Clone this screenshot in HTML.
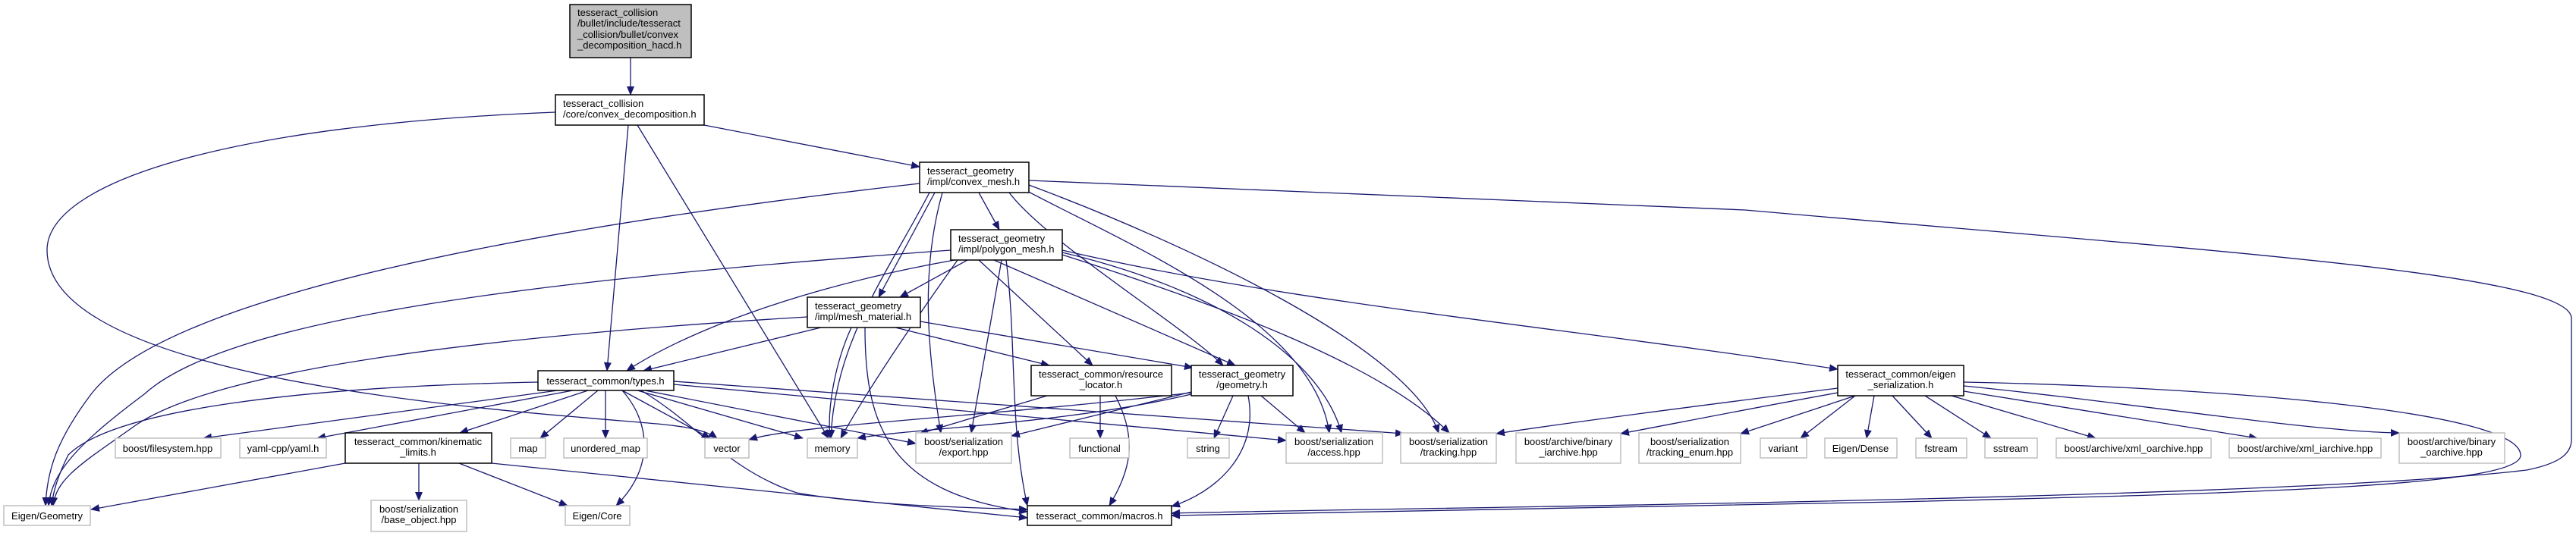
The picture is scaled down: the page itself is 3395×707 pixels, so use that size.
<!DOCTYPE html>
<html><head><meta charset="utf-8"><style>
html,body{margin:0;padding:0;background:#fff;}
svg{display:block;}
text{font-family:"Liberation Sans",Arial,sans-serif;font-size:13px;fill:#000;}
.e{fill:none;stroke:#191970;stroke-width:1.3;}
.in{fill:#fff;stroke:#000;stroke-width:1.5;}
.ex{fill:#fff;stroke:#bfbfbf;stroke-width:1.5;}
</style></head><body>
<svg width="3395" height="707" viewBox="0 0 3395 707" xmlns="http://www.w3.org/2000/svg">
<defs><marker id="a" markerUnits="userSpaceOnUse" markerWidth="12" markerHeight="10" refX="11" refY="5" orient="auto"><path d="M0,0 L12,5 L0,10 Z" fill="#191970"/></marker></defs>
<g class="e" marker-end="url(#a)">
<!-- root -->
<path d="M831,76 L831,125"/>
<!-- convex_decomposition -->
<path d="M928,165 L1212,220"/>
<path d="M828,165 L800,489"/>
<path d="M840,165 L1092,578"/>
<path d="M732,148 C300,165 62,240 62,330 C62,460 400,520 760,550 C870,560 920,560 945,578"/>
<!-- convex_mesh -->
<path d="M1290,254 L1317,303"/>
<path d="M1232,254 L1158,392"/>
<path d="M1212,242 C700,300 220,390 120,520 C75,580 62,620 60,667"/>
<path d="M1225,254 C1170,360 1100,450 1095,578"/>
<path d="M1242,254 C1215,350 1220,450 1240,571"/>
<path d="M1330,254 C1380,320 1560,430 1612,482"/>
<path d="M1350,250 C1480,320 1730,420 1752,571"/>
<path d="M1356,244 C1560,320 1860,460 1896,571"/>
<path d="M1356,238 L2300,277 C2900,330 3389,360 3389,420 L3389,580 C3389,600 3370,612 3330,620 C3000,660 1800,670 1544,677"/>
<!-- polygon_mesh -->
<path d="M1253,330 C700,370 300,420 190,520 C110,580 68,620 64,667"/>
<path d="M1275,343 L1186,392"/>
<path d="M1258,343 C1050,380 900,440 826,489"/>
<path d="M1290,343 L1440,482"/>
<path d="M1310,343 L1628,482"/>
<path d="M1262,343 C1200,430 1140,520 1108,578"/>
<path d="M1320,343 L1280,571"/>
<path d="M1326,343 C1340,450 1330,560 1354,667"/>
<path d="M1400,333 C1600,380 1740,470 1768,571"/>
<path d="M1400,336 C1600,400 1820,480 1910,571"/>
<path d="M1400,330 C1700,400 2050,430 2422,487"/>
<!-- mesh_material -->
<path d="M1064,418 C700,440 300,480 180,560 C110,610 74,630 70,667"/>
<path d="M1082,432 L848,489"/>
<path d="M1180,432 L1383,482"/>
<path d="M1213,424 L1572,485"/>
<path d="M1122,432 C1100,480 1090,540 1094,578"/>
<path d="M1140,432 C1140,560 1170,650 1354,675"/>
<!-- types.h -->
<path d="M709,504 C400,510 150,540 90,600 C75,630 70,650 68,667"/>
<path d="M735,515 L268,578"/>
<path d="M755,515 L418,578"/>
<path d="M775,515 L606,571"/>
<path d="M788,515 L712,578"/>
<path d="M798,515 L798,578"/>
<path d="M820,515 C860,560 860,620 812,667"/>
<path d="M820,515 L936,578"/>
<path d="M840,515 L1058,578"/>
<path d="M850,515 L1207,585"/>
<path d="M888,507 L1695,581"/>
<path d="M888,503 L1850,572"/>
<path d="M845,515 C920,560 960,620 1050,650 C1150,668 1300,670 1354,672"/>
<!-- kinematic -->
<path d="M455,611 L120,672"/>
<path d="M552,611 L552,660"/>
<path d="M605,611 L748,667"/>
<path d="M648,611 L1354,683"/>
<!-- resource_locator -->
<path d="M1380,522 L1212,572"/>
<path d="M1450,522 L1450,578"/>
<path d="M1470,522 C1500,580 1490,620 1462,667"/>
<!-- geometry.h -->
<path d="M1570,517 L1333,575"/>
<path d="M1570,520 C1400,560 1200,565 1130,578"/>
<path d="M1570,518 C1300,550 1050,560 987,580"/>
<path d="M1625,522 L1600,578"/>
<path d="M1662,522 L1720,571"/>
<path d="M1645,522 C1660,600 1600,650 1544,668"/>
<!-- eigen serialization -->
<path d="M2422,512 C2200,540 2050,560 1972,572"/>
<path d="M2422,518 C2300,540 2200,560 2136,572"/>
<path d="M2445,522 L2294,572"/>
<path d="M2445,522 L2373,578"/>
<path d="M2470,522 L2460,578"/>
<path d="M2494,522 L2546,578"/>
<path d="M2537,522 L2624,578"/>
<path d="M2572,522 L2762,578"/>
<path d="M2588,516 L2975,578"/>
<path d="M2588,509 C2800,530 3050,570 3162,571"/>
<path d="M2588,504 C2900,510 3320,540 3322,600 C3325,640 3000,650 2500,662 C2000,672 1700,676 1544,680"/>
</g>
<!-- nodes -->
<rect x="751" y="6" width="160" height="70" fill="#bfbfbf" stroke="#000" stroke-width="1.5"/>
<text x="761" y="21">tesseract_collision</text>
<text x="761" y="35">/bullet/include/tesseract</text>
<text x="761" y="50">_collision/bullet/convex</text>
<text x="761" y="64">_decomposition_hacd.h</text>

<rect class="in" x="732" y="125" width="196" height="40"/>
<text x="742" y="141">tesseract_collision</text>
<text x="742" y="155">/core/convex_decomposition.h</text>

<rect class="in" x="1212" y="214" width="144" height="40"/>
<text x="1222" y="230">tesseract_geometry</text>
<text x="1222" y="244">/impl/convex_mesh.h</text>

<rect class="in" x="1253" y="303" width="147" height="40"/>
<text x="1263" y="319">tesseract_geometry</text>
<text x="1263" y="333">/impl/polygon_mesh.h</text>

<rect class="in" x="1064" y="392" width="149" height="40"/>
<text x="1074" y="408">tesseract_geometry</text>
<text x="1074" y="422">/impl/mesh_material.h</text>

<rect class="in" x="709" y="489" width="179" height="26"/>
<text x="798" y="507" text-anchor="middle">tesseract_common/types.h</text>

<rect class="in" x="1359" y="482" width="185" height="40"/>
<text x="1451" y="498" text-anchor="middle">tesseract_common/resource</text>
<text x="1451" y="512" text-anchor="middle">_locator.h</text>

<rect class="in" x="1570" y="482" width="134" height="40"/>
<text x="1637" y="498" text-anchor="middle">tesseract_geometry</text>
<text x="1637" y="512" text-anchor="middle">/geometry.h</text>

<rect class="in" x="2422" y="482" width="166" height="40"/>
<text x="2505" y="498" text-anchor="middle">tesseract_common/eigen</text>
<text x="2505" y="512" text-anchor="middle">_serialization.h</text>

<rect class="in" x="455" y="571" width="193" height="40"/>
<text x="551" y="587" text-anchor="middle">tesseract_common/kinematic</text>
<text x="551" y="601" text-anchor="middle">_limits.h</text>

<rect class="in" x="1354" y="667" width="190" height="26"/>
<text x="1449" y="685" text-anchor="middle">tesseract_common/macros.h</text>

<g>
<rect class="ex" x="152" y="578" width="139" height="26"/><text x="221" y="596" text-anchor="middle">boost/filesystem.hpp</text>
<rect class="ex" x="316" y="578" width="114" height="26"/><text x="373" y="596" text-anchor="middle">yaml-cpp/yaml.h</text>
<rect class="ex" x="673" y="578" width="46" height="26"/><text x="696" y="596" text-anchor="middle">map</text>
<rect class="ex" x="743" y="578" width="110" height="26"/><text x="798" y="596" text-anchor="middle">unordered_map</text>
<rect class="ex" x="929" y="578" width="58" height="26"/><text x="958" y="596" text-anchor="middle">vector</text>
<rect class="ex" x="1064" y="578" width="66" height="26"/><text x="1097" y="596" text-anchor="middle">memory</text>
<rect class="ex" x="5" y="667" width="114" height="26"/><text x="62" y="685" text-anchor="middle">Eigen/Geometry</text>
<rect class="ex" x="489" y="660" width="126" height="41"/><text x="552" y="676" text-anchor="middle">boost/serialization</text><text x="552" y="690" text-anchor="middle">/base_object.hpp</text>
<rect class="ex" x="745" y="667" width="85" height="26"/><text x="787" y="685" text-anchor="middle">Eigen/Core</text>
<rect class="ex" x="1207" y="571" width="126" height="40"/><text x="1270" y="587" text-anchor="middle">boost/serialization</text><text x="1270" y="601" text-anchor="middle">/export.hpp</text>
<rect class="ex" x="1410" y="578" width="78" height="26"/><text x="1449" y="596" text-anchor="middle">functional</text>
<rect class="ex" x="1565" y="578" width="55" height="26"/><text x="1592" y="596" text-anchor="middle">string</text>
<rect class="ex" x="1695" y="571" width="127" height="40"/><text x="1758" y="587" text-anchor="middle">boost/serialization</text><text x="1758" y="601" text-anchor="middle">/access.hpp</text>
<rect class="ex" x="1846" y="571" width="126" height="40"/><text x="1909" y="587" text-anchor="middle">boost/serialization</text><text x="1909" y="601" text-anchor="middle">/tracking.hpp</text>
<rect class="ex" x="1998" y="571" width="138" height="40"/><text x="2067" y="587" text-anchor="middle">boost/archive/binary</text><text x="2067" y="601" text-anchor="middle">_iarchive.hpp</text>
<rect class="ex" x="2160" y="571" width="134" height="40"/><text x="2227" y="587" text-anchor="middle">boost/serialization</text><text x="2227" y="601" text-anchor="middle">/tracking_enum.hpp</text>
<rect class="ex" x="2320" y="578" width="61" height="26"/><text x="2350" y="596" text-anchor="middle">variant</text>
<rect class="ex" x="2405" y="578" width="95" height="26"/><text x="2452" y="596" text-anchor="middle">Eigen/Dense</text>
<rect class="ex" x="2525" y="578" width="67" height="26"/><text x="2558" y="596" text-anchor="middle">fstream</text>
<rect class="ex" x="2616" y="578" width="69" height="26"/><text x="2650" y="596" text-anchor="middle">sstream</text>
<rect class="ex" x="2710" y="578" width="204" height="26"/><text x="2812" y="596" text-anchor="middle">boost/archive/xml_oarchive.hpp</text>
<rect class="ex" x="2938" y="578" width="200" height="26"/><text x="3038" y="596" text-anchor="middle">boost/archive/xml_iarchive.hpp</text>
<rect class="ex" x="3162" y="571" width="139" height="40"/><text x="3231" y="587" text-anchor="middle">boost/archive/binary</text><text x="3231" y="601" text-anchor="middle">_oarchive.hpp</text>
</g>
</svg>
</body></html>
